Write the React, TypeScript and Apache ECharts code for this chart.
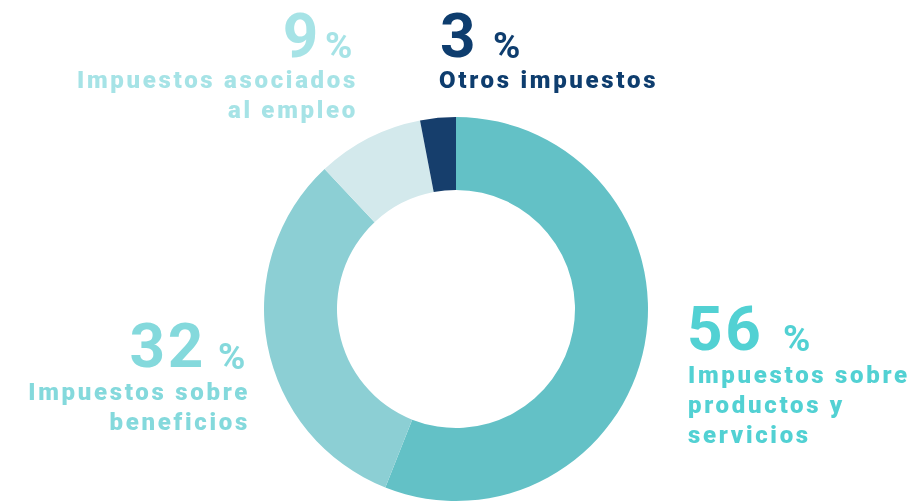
import React, { useEffect, useRef } from "react";
import * as echarts from "echarts";

const categories = [
  "Impuestos sobre productos y servicios",
  "Impuestos sobre beneficios",
  "Impuestos asociados al empleo",
  "Otros impuestos",
];
const values = [56, 32, 9, 3];
const labelLines = [
  ["Impuestos sobre", "productos y", "servicios"],
  ["Impuestos sobre", "beneficios"],
  ["Impuestos asociados", "al empleo"],
  ["Otros impuestos"],
];
const sliceColors = ["#63c1c6", "#8ccfd4", "#d3e9ec", "#163e6c"];
const textColors = ["#52d1d3", "#84d9dc", "#a6e3e6", "#0e3d6e"];

// label layout: anchor, alignment and line positions
const labelLayout = [
  { align: "left", numX: 687, numY: 328, pctX: 783, pctY: 338, lineX: 688, lineY: 375 },
  { align: "right", numX: 206, numY: 345, pctX: 218, pctY: 356, lineX: 250, lineY: 392 },
  { align: "right", numX: 321, numY: 35, pctX: 325, pctY: 45, lineX: 358, lineY: 80 },
  { align: "left", numX: 440, numY: 35, pctX: 493, pctY: 45, lineX: 439, lineY: 80 },
];

export default function App() {
  const ref = useRef<HTMLDivElement>(null);
  useEffect(() => {
    document.body.style.margin = "0";
    const chart = echarts.init(ref.current!, null, { renderer: "svg" });
    const graphics: any[] = [];
    values.forEach((v, i) => {
      const L = labelLayout[i];
      const c = textColors[i];
      graphics.push({
        type: "text",
        x: L.numX,
        y: L.numY,
        style: {
          text: String(v),
          fill: c,
          font: "bold 62px Roboto",
          lineHeight: 50,
          align: L.align === "left" ? "left" : "right",
          verticalAlign: "middle",
        },
      });
      graphics.push({
        type: "text",
        x: L.pctX,
        y: L.pctY,
        style: {
          text: "%",
          fill: c,
          font: "bold 37px Roboto",
          lineHeight: 30,
          align: "left",
          verticalAlign: "middle",
        },
      });
      labelLines[i].forEach((line, j) => {
        graphics.push({
          type: "text",
          x: L.lineX,
          y: L.lineY + j * 30,
          style: {
            text: line,
            fill: c,
            font: "900 24px Roboto",
            align: L.align,
            verticalAlign: "middle",
          },
        });
      });
    });
    chart.setOption({
      animation: false,
      series: [
        {
          type: "pie",
          center: [456, 309],
          radius: [119, 192],
          startAngle: 90,
          clockwise: true,
          silent: true,
          label: { show: false },
          labelLine: { show: false },
          itemStyle: { borderWidth: 0 },
          data: categories.map((name, i) => ({
            name,
            value: values[i],
            itemStyle: { color: sliceColors[i] },
          })),
        },
      ],
      graphic: graphics,
    });
    return () => chart.dispose();
  }, []);
  return (
    <div
      ref={ref}
      style={{ position: "fixed", left: 0, top: 0, width: 910, height: 503, letterSpacing: "2.7px" }}
    />
  );
}
